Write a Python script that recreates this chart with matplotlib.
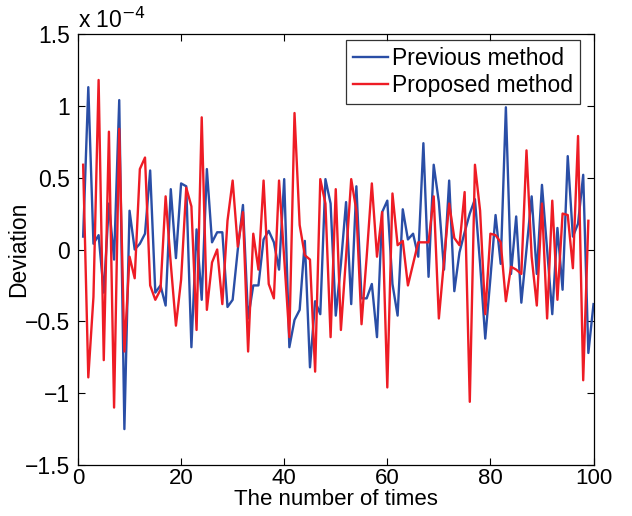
import numpy as np
import matplotlib.pyplot as plt

# --- data (deviation in units of 1e-4) ---
x_prev = np.arange(1, 101)
prev_method = [
    0.09, 1.13, 0.04, 0.10, -0.30, 0.32, -0.07, 1.04, -1.25, 0.27,
    0.00, 0.04, 0.11, 0.55, -0.30, -0.25, -0.39, 0.42, -0.06, 0.46,
    0.44, -0.68, 0.14, -0.35, 0.56, 0.05, 0.12, 0.12, -0.40, -0.35,
    0.00, 0.31, -0.48, -0.25, -0.25, 0.07, 0.13, 0.05, -0.14, 0.49,
    -0.68, -0.49, -0.42, 0.06, -0.82, -0.36, -0.45, 0.49, 0.32, -0.46,
    -0.10, 0.33, -0.38, 0.44, -0.34, -0.34, -0.24, -0.61, 0.26, 0.34,
    -0.24, -0.46, 0.28, 0.07, 0.11, -0.05, 0.74, -0.19, 0.59, 0.33,
    -0.14, 0.48, -0.29, -0.02, 0.12, 0.25, 0.35, -0.10, -0.62, -0.20,
    0.24, -0.10, 0.99, -0.17, 0.23, -0.37, 0.00, 0.37, -0.17, 0.45,
    0.00, -0.45, 0.15, -0.28, 0.65, 0.09, 0.18, 0.52, -0.72, -0.38,
]

x_prop = np.arange(1, 100)
prop_method = [
    0.59, -0.89, -0.33, 1.18, -0.77, 0.82, -1.10, 0.84, -0.71, -0.05,
    -0.20, 0.56, 0.64, -0.25, -0.35, -0.28, 0.37, -0.10, -0.53, -0.21,
    0.43, 0.30, -0.56, 0.92, -0.42, -0.09, 0.00, -0.38, 0.20, 0.48,
    0.02, 0.26, -0.71, 0.11, -0.14, 0.48, -0.24, -0.34, 0.48, -0.06,
    -0.61, 0.95, 0.17, -0.04, -0.07, -0.85, 0.49, 0.32, -0.61, 0.42,
    -0.56, -0.05, 0.49, 0.27, -0.52, -0.05, 0.46, -0.05, 0.26, -0.96,
    0.39, 0.03, 0.06, -0.25, -0.10, 0.05, 0.05, 0.05, 0.37, -0.48,
    -0.08, 0.32, 0.08, 0.03, 0.40, -1.06, 0.59, 0.27, -0.45, 0.11,
    0.10, 0.05, -0.36, -0.12, -0.14, -0.17, 0.69, -0.05, -0.39, 0.32,
    -0.48, 0.34, -0.35, 0.25, 0.24, -0.13, 0.79, -0.91, 0.20,
]

x_ticks = [0, 20, 40, 60, 80, 100]
y_ticks = [-1.5, -1, -0.5, 0, 0.5, 1, 1.5]
y_tick_labels = ['\u22121.5', '\u22121', '\u22120.5', '0', '0.5', '1', '1.5']

# --- figure ---
plt.rcParams['font.family'] = ['Liberation Sans', 'DejaVu Sans']
fs = 16.5

fig = plt.figure(figsize=(6.32, 5.16), dpi=100)
ax = fig.add_axes([0.1234, 0.0988, 0.8157, 0.8353])

ax.plot(x_prev, prev_method, color='#2a4ea6', linewidth=1.7, label='Previous method')
ax.plot(x_prop, prop_method, color='#ee1c25', linewidth=1.7, label='Proposed method')

ax.set_xlim(0, 100)
ax.set_ylim(-1.5, 1.5)
ax.set_xticks(x_ticks)
ax.set_yticks(y_ticks)
ax.set_yticklabels(y_tick_labels)
ax.tick_params(direction='in', top=True, right=True, length=5, width=0.8,
               labelsize=fs)
ax.tick_params(axis='x', pad=2, labelsize=16)
ax.tick_params(axis='y', pad=6)
for s in ax.spines.values():
    s.set_linewidth(0.9)

ax.set_xlabel('The number of times', fontsize=16, labelpad=0)
ax.set_ylabel('Deviation', fontsize=fs, labelpad=-4)
ax.text(0.0, 1.003, r'x 10$^{-4}$', transform=ax.transAxes, fontsize=fs,
        ha='left', va='bottom')

leg = ax.legend(loc='upper right', bbox_to_anchor=(0.974, 0.986),
                fontsize=fs, frameon=True, fancybox=False,
                borderpad=0.3, handlelength=1.5, handletextpad=0.2,
                labelspacing=0.2, borderaxespad=0)
leg.get_frame().set_edgecolor('black')
leg.get_frame().set_linewidth(0.9)

fig.savefig('out.png', dpi=100)
